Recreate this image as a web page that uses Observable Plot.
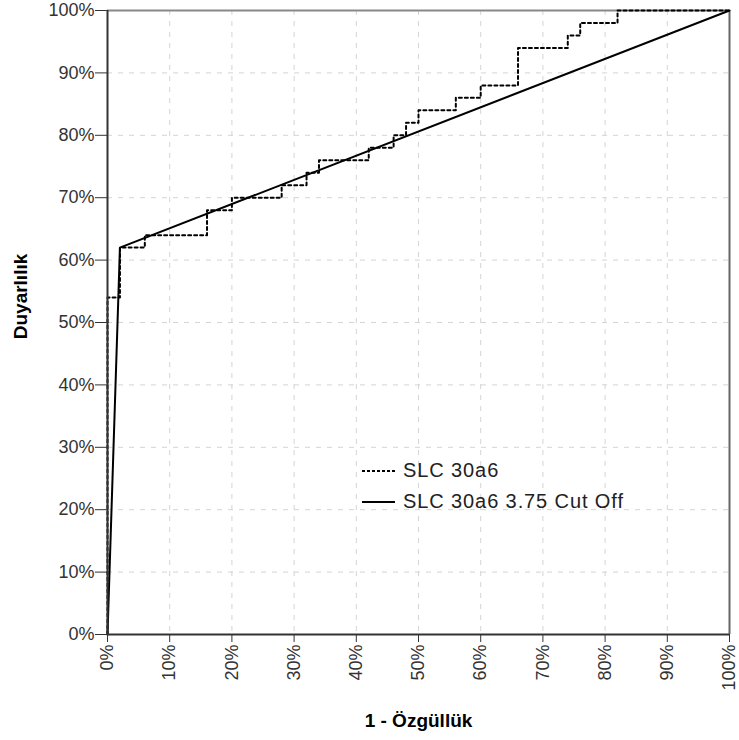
<!DOCTYPE html>
<html>
<head>
<meta charset="utf-8">
<script src="https://cdn.jsdelivr.net/npm/d3@7"></script>
<script src="https://cdn.jsdelivr.net/npm/@observablehq/plot@0.6"></script>
<style>
  html, body { margin: 0; padding: 0; background: #fff; }
  #wrap { position: relative; width: 739px; height: 740px; font-family: "Liberation Sans", Arial, sans-serif; }
  #legend { position: absolute; left: 362px; top: 455px; font-size: 20px; letter-spacing: 0.9px; color: #222; }
  #legend .row { display: flex; align-items: center; height: 31px; }
  #legend svg { width: 36px; height: 10px; margin-right: 5px; }
</style>
</head>
<body>
<div id="wrap"></div>
<script>
// ROC curve: SLC 30a6 (step curve), points where sensitivity jumps
const stepFpr = [0, 0, 2, 6, 16, 20, 28, 32, 34, 42, 46, 48, 50, 56, 60, 66, 74, 76, 82, 100];
const stepTpr = [0, 54, 62, 64, 68, 70, 72, 74, 76, 78, 80, 82, 84, 86, 88, 94, 96, 98, 100, 100];
// SLC 30a6 3.75 cut off
const cutFpr = [0, 2, 100];
const cutTpr = [0, 62, 100];
const ticks = [0, 10, 20, 30, 40, 50, 60, 70, 80, 90, 100];
const seriesNames = ["SLC 30a6", "SLC 30a6 3.75 Cut Off"];
const xTitle = "1 - Özgüllük";
const yTitle = "Duyarlılık";

const stepData = stepFpr.map((x, i) => ({x, y: stepTpr[i]}));
const cutData = cutFpr.map((x, i) => ({x, y: cutTpr[i]}));
const fmt = d => d + "%";

const chart = Plot.plot({
  width: 739,
  height: 740,
  marginLeft: 107,
  marginRight: 10,
  marginTop: 10,
  marginBottom: 106,
  style: {fontFamily: '"Liberation Sans", Arial, sans-serif', fontSize: "18px", color: "#333", background: "#fff", overflow: "visible"},
  x: {domain: [0, 100]},
  y: {domain: [0, 100]},
  marks: [
    Plot.ruleX(ticks.slice(1, -1), {stroke: "#d4d4d4", strokeDasharray: "5,6", strokeWidth: 1}),
    Plot.ruleY(ticks.slice(1, -1), {stroke: "#d4d4d4", strokeDasharray: "5,6", strokeWidth: 1}),
    Plot.ruleY([100], {stroke: "#888", strokeWidth: 2}),
    Plot.ruleX([100], {stroke: "#666", strokeWidth: 2}),
    Plot.line(stepData, {x: "x", y: "y", curve: "step-after", stroke: "#000", strokeWidth: 2, strokeDasharray: "3,3"}),
    Plot.line(cutData, {x: "x", y: "y", stroke: "#000", strokeWidth: 2}),
    Plot.ruleY([0], {stroke: "#333", strokeWidth: 2}),
    Plot.ruleX([0], {stroke: "#333", strokeWidth: 2}),
    Plot.axisY({ticks, tickFormat: fmt, tickSize: 12, tickPadding: 1, stroke: "#333", label: null}),
    Plot.axisX({ticks, tickFormat: fmt, tickSize: 8, tickPadding: 2, tickRotate: -90, stroke: "#333", label: null}),
    Plot.text([xTitle], {frameAnchor: "bottom", textAnchor: "middle", dy: 92, text: d => d, fontWeight: "bold", fontSize: 19, fill: "#000"}),
    Plot.text([yTitle], {frameAnchor: "left", textAnchor: "middle", dx: -87, dy: -26, rotate: -90, text: d => d, fontWeight: "bold", fontSize: 19, fill: "#000"})
  ]
});

const wrap = document.getElementById("wrap");
wrap.appendChild(chart);

const legend = document.createElement("div");
legend.id = "legend";
legend.innerHTML = seriesNames.map((name, i) => `
  <div class="row">
    <svg viewBox="0 0 36 10"><line x1="0" x2="33" y1="5" y2="5" stroke="#000" stroke-width="2" ${i === 0 ? 'stroke-dasharray="3,2"' : ''}/></svg>
    <span>${name}</span>
  </div>`).join("");
wrap.appendChild(legend);
</script>
</body>
</html>
